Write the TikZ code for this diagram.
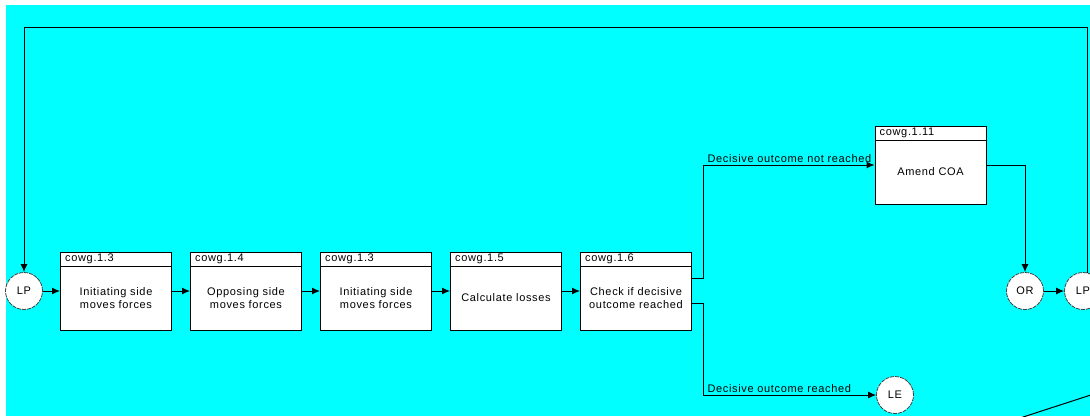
\documentclass[tikz,border=0pt]{standalone}
\usepackage{fontspec}
\setmainfont{Liberation Sans}[LetterSpace=6]
\usetikzlibrary{positioning,arrows.meta}

\definecolor{bgcyan}{RGB}{0,255,255}

\tikzset{
    proc/.style = {draw, fill=white, line width=1pt, minimum width=111pt, minimum height=78pt, inner sep=0pt,
        path picture={\draw[line width=1pt] ([yshift=-14pt]path picture bounding box.north west)
            -- ([yshift=-14pt]path picture bounding box.north east);}},
    pid/.style = {anchor=north west, inner sep=0pt, xshift=5pt, yshift=-2.5pt},
    ptext/.style = {anchor=center, align=center, inner sep=0pt, yshift=-7pt},
    conn/.style = {circle, draw=black!75, dash pattern=on 4pt off 1pt, line width=0.8pt, fill=white,
        minimum size=37pt, inner sep=0pt},
    flow/.style = {-{Latex[length=8pt,width=7pt]}, line width=1pt},
    branch/.style = {anchor=south west, inner xsep=4pt, inner ysep=2pt}
}

\begin{document}
\begin{tikzpicture}[x=1pt, y=-1pt, font=\fontsize{11pt}{13.2pt}\selectfont]
    \clip (0,0) rectangle (1090,416);
    \fill[bgcyan] (6,5) rectangle (1090,416);

    % main row
    \node[conn] (LPl) at (24,291) {LP};
    \node[proc, label={[pid]north west:cowg.1.3},
        label={[ptext]center:Initiating side\\moves forces}] (b1) at (116,291) {};
    \node[proc, right=18pt of b1, label={[pid]north west:cowg.1.4},
        label={[ptext]center:Opposing side\\moves forces}] (b2) {};
    \node[proc, right=18pt of b2, label={[pid]north west:cowg.1.3},
        label={[ptext]center:Initiating side\\moves forces}] (b3) {};
    \node[proc, right=18pt of b3, label={[pid]north west:cowg.1.5},
        label={[ptext]center:Calculate losses}] (b4) {};
    \node[proc, right=18pt of b4, label={[pid]north west:cowg.1.6},
        label={[ptext]center:Check if decisive\\outcome reached}] (b5) {};

    % amend branch
    \node[proc, label={[pid]north west:cowg.1.11},
        label={[ptext]center:Amend COA}] (b6) at (930.5,165) {};
    \node[conn] (OR) at (1025,291) {OR};
    \node[conn] (LPr) at (1083,291) {LP};
    \node[conn] (LE) at (895,395) {LE};
    \coordinate (loop) at (24,27);
    \coordinate (offa) at (1100,392);
    \coordinate (offb) at (1020,418);

    \foreach \a/\b in {LPl/b1, b1/b2, b2/b3, b3/b4, b4/b5}
        \draw[flow] (\a) -- (\b);
    \draw[flow] ([yshift=13pt]b5.east) -- ++(11,0) |- (b6)
        node[pos=0.5, branch] (notreached) {Decisive outcome not reached};
    \draw[flow] ([yshift=-12pt]b5.east) -- ++(11,0) |- (LE)
        node[pos=0.5, branch] (reached) {Decisive outcome reached};
    \draw[flow] (b6) -| (OR);
    \draw[flow] (OR) -- (LPr);
    \draw[flow] (LPr.75) |- (loop) -| (LPl);
    \draw[line width=1pt] (offa) -- (offb);
\end{tikzpicture}
\end{document}
